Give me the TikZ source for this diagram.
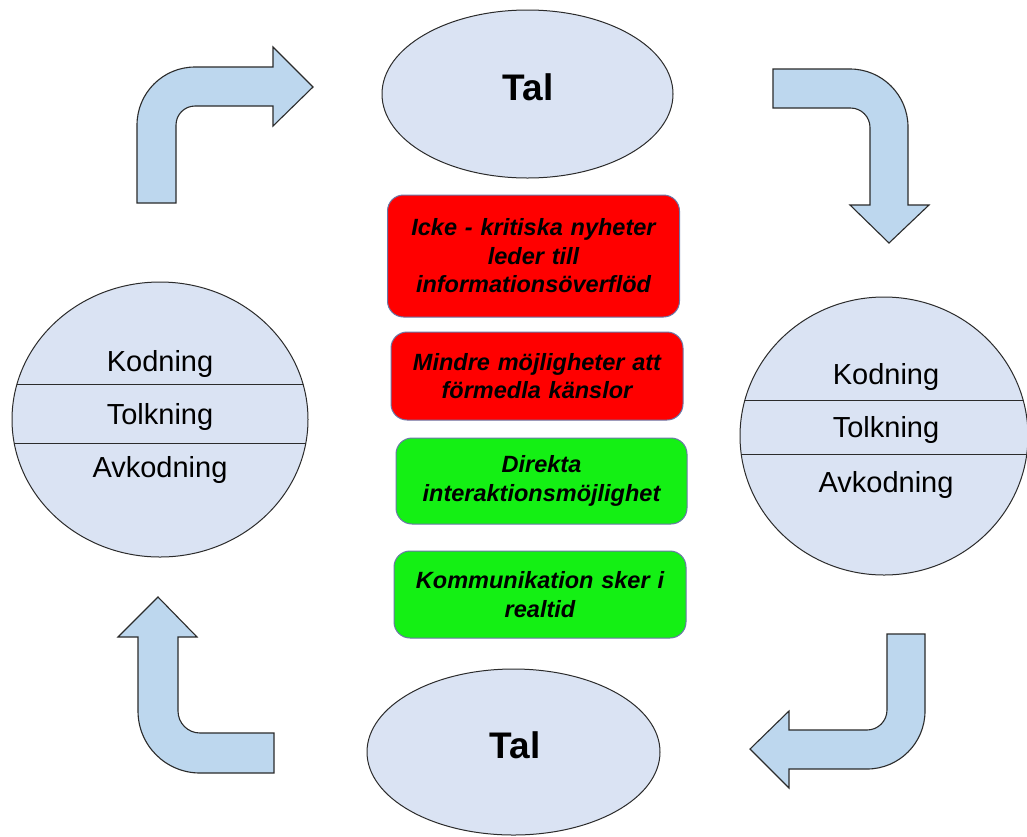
\documentclass[tikz,border=0pt]{standalone}
\usepackage{fontspec}
\setmainfont{Liberation Sans}
\usetikzlibrary{shapes.geometric}

\definecolor{ovalfill}{HTML}{DAE3F3}
\definecolor{arrowfill}{HTML}{BDD7EE}
\definecolor{edgegray}{HTML}{2B2B2B}
\definecolor{boxedge}{HTML}{6A78A8}
\definecolor{negred}{HTML}{FF0000}
\definecolor{posgreen}{HTML}{14F014}

\begin{document}
\begin{tikzpicture}[x=1pt,y=-1pt,
  oval/.style={ellipse, draw=edgegray, line width=1pt, fill=ovalfill, inner sep=0pt},
  bentarrow/.style={draw=edgegray, line width=1.1pt, fill=arrowfill, line join=miter},
  chord/.style={draw=edgegray, line width=1pt},
  taltext/.style={font=\fontsize{37}{40}\selectfont\bfseries, inner sep=0pt},
  steplabel/.style={font=\fontsize{29}{32}\selectfont, anchor=base, inner sep=0pt},
  notebox/.style={rectangle, rounded corners=16pt, draw=boxedge, line width=1pt,
    minimum width=292pt, align=center, text width=284pt, inner sep=0pt,
    font=\fontsize{23.5}{28.5}\selectfont\bfseries\itshape},
]
\useasboundingbox (0,0) rectangle (1027,836);
\fill[white] (0,0) rectangle (1027,836);

% speech ovals
\node[oval, minimum width=291pt, minimum height=168pt] (talTop) at (527.5,94) {};
\node[taltext] (talTopText) at (528,87) {Tal};
\node[oval, minimum width=293pt, minimum height=166pt] (talBottom) at (513.5,752) {};
\node[taltext] (talBottomText) at (515,745) {Tal};

% coding / interpretation / decoding circles
\node[oval, minimum width=296pt, minimum height=275pt] (leftCircle) at (160,419.5) {};
\begin{scope}
  \clip (leftCircle.center) ellipse [x radius=148, y radius=137.5];
  \draw[chord] (0,384) -- (330,384);
  \draw[chord] (0,443) -- (330,443);
\end{scope}
\node[steplabel] (leftK) at (160,371) {Kodning};
\node[steplabel] (leftT) at (160,424) {Tolkning};
\node[steplabel] (leftA) at (160,477) {Avkodning};

\node[oval, minimum width=288pt, minimum height=278pt] (rightCircle) at (884,436) {};
\begin{scope}
  \clip (rightCircle.center) ellipse [x radius=144, y radius=139];
  \draw[chord] (730,400) -- (1040,400);
  \draw[chord] (730,454) -- (1040,454);
\end{scope}
\node[steplabel] (rightK) at (886,384) {Kodning};
\node[steplabel] (rightT) at (886,437) {Tolkning};
\node[steplabel] (rightA) at (886,492) {Avkodning};

% notes in the middle
\node[notebox, fill=negred, minimum height=122pt] (note1) at (533.5,256)
  {Icke - kritiska nyheter\\leder till\\informationsöverflöd};
\node[notebox, fill=negred, minimum height=88pt] (note2) at (537,376)
  {Mindre möjligheter att\\förmedla känslor};
\node[notebox, fill=posgreen, minimum height=86pt, minimum width=291pt] (note3) at (541.5,481)
  {Direkta\\interaktionsmöjlighet};
\node[notebox, fill=posgreen, minimum height=87pt] (note4) at (540,594.5)
  {Kommunikation sker i\\realtid};

% bent arrows running clockwise round the cycle
\draw[bentarrow] (137,203) -- (137,125) arc[start angle=180, end angle=270, radius=58]
  -- (273,67) -- (273,47) -- (313,87) -- (273,126) -- (273,106) -- (195,106)
  arc[start angle=270, end angle=180, radius=19] -- (176,203) -- cycle;

\draw[bentarrow] (773,69) -- (850,69) arc[start angle=270, end angle=360, radius=58]
  -- (908,205) -- (929,205) -- (889,243) -- (850,205) -- (870,205) -- (870,127.5)
  arc[start angle=0, end angle=-90, radius=19.5] -- (773,108) -- cycle;

\draw[bentarrow] (887,634) -- (925,634) -- (925,711) arc[start angle=0, end angle=90, radius=58]
  -- (789,769) -- (789,788) -- (750,749) -- (789,711) -- (789,730) -- (867,730)
  arc[start angle=90, end angle=0, radius=20] -- cycle;

\draw[bentarrow] (158,597) -- (197,637) -- (178,637) -- (178,711)
  arc[start angle=180, end angle=90, radius=22] -- (274,733) -- (274,773) -- (200,773)
  arc[start angle=90, end angle=180, radius=62] -- (138,637) -- (118,637) -- cycle;
\end{tikzpicture}
\end{document}
